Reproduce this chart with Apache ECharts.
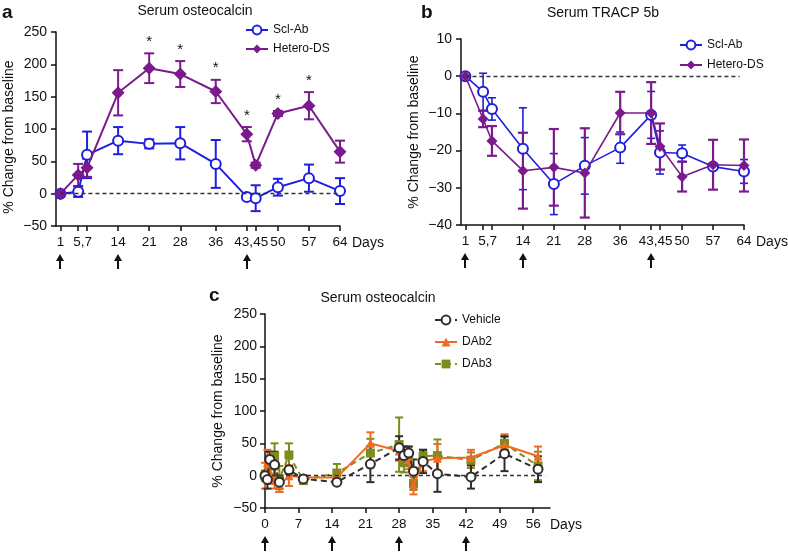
<!DOCTYPE html>
<html><head><meta charset="utf-8">
<script src="https://cdn.jsdelivr.net/npm/echarts@6/dist/echarts.min.js"></script>
<style>html,body{margin:0;padding:0;background:#fff}#c{width:788px;height:553px}</style>
</head><body><div id="c"></div>
<script>
// ---------- data ----------
const daysAB = [1,5,7,14,21,28,36,43,45,50,57,64];
const xTickAB = [1,5,7,14,21,28,36,43,45,50,57,64];
const xLabelPosAB = [1,6,14,21,28,36,44,50,57,64];
const xLabelTxtAB = ['1','5,7','14','21','28','36','43,45','50','57','64'];
const arrowDaysAB = [1,14,43];

// panel a : serum osteocalcin
const sclA    = [0, 3, 60, 82, 77, 78, 46, -5, -7, 10, 24, 4];
const sclAErr = [0, 8, 36, 21, 7, 25, 37, 4, 20, 13, 21, 20];
const hetA    = [0, 29, 40, 156, 194, 185, 158, 92, 44, 124, 136, 65];
const hetAErr = [0, 17, 14, 35, 23, 20, 18, 11, 4, 4, 21, 17];
const sigDaysA = [21, 28, 36, 43, 50, 57];

// panel b : serum TRACP 5b
const sclB    = [0, -4.2, -8.8, -19.5, -29, -24.1, -19.2, -10.4, -20.5, -20.7, -24.3, -25.6];
const sclBErr = [0, 5, 3, 11, 8.2, 7.6, 4.2, 6.3, 5.8, 2.2, 1, 3.2];
const hetB    = [0, -11.5, -17.4, -25.4, -24.5, -26, -9.9, -9.9, -18.9, -27, -23.8, -24];
const hetBErr = [0, 2.2, 4, 10.2, 10.3, 12, 5.7, 8.3, 6.2, 4, 6.7, 7];

// panel c : serum osteocalcin (day, value, error)
const vehDays = [0, 0.5, 1, 2, 3, 5, 8, 15, 22, 28, 29, 30, 31, 33, 36, 43, 50, 57];
const vehC    = [0, -6, 25, 17, -10, 9, -5, -10, 18, 43, 31, 35, 7, 22, 3, -2, 34, 10];
const vehErr  = [6, 14, 12, 20, 10, 6, 4, 4, 28, 18, 14, 10, 18, 18, 28, 18, 27, 20];
const dab2Days = [0, 0.5, 1, 2, 3, 5, 8, 15, 22, 28, 29, 30, 31, 33, 36, 43, 50, 57];
const dab2C    = [0, 20, 5, -5, -15, 0, -3, -3, 50, 38, 30, 25, -15, 22, 27, 28, 47, 30];
const dab2Err  = [20, 20, 18, 15, 10, 16, 4, 6, 17, 15, 15, 15, 14, 15, 22, 12, 17, 15];
const dab3Days = [0, 1, 2, 3, 5, 8, 15, 22, 28, 29, 30, 31, 33, 36, 43, 50, 57];
const dab3C    = [0, 15, 30, -5, 32, -7, 4, 35, 48, 20, 30, -12, 30, 31, 24, 50, 15];
const dab3Err  = [8, 12, 20, 20, 18, 6, 14, 22, 42, 15, 15, 10, 10, 25, 12, 10, 22];
const xTickC = [0, 7, 14, 21, 28, 35, 42, 49, 56];
const arrowDaysC = [0, 14, 28, 42];

// ---------- styling ----------
const FONT = 'Liberation Sans, Arial, Helvetica, sans-serif';
const BLUE = '#1f1fe0', PURPLE = '#7a1a8c', ORANGE = '#f26a22', OLIVE = '#7f8b1c', DARK = '#2e2e2e';
const minus = v => v < 0 ? '\u2212' + Math.abs(v) : String(v);

function yAxis(gi, min, max, interval, margin, namePad) {
  return {
    type: 'value', gridIndex: gi, min, max, interval,
    name: '% Change from baseline', nameLocation: 'middle', nameGap: 40,
    nameTextStyle: {fontFamily: FONT, fontSize: 14, color: '#111', padding: namePad},
    axisLine: {show: true, lineStyle: {color: '#111', width: 1.5}},
    axisTick: {show: true, length: 5, lineStyle: {color: '#111', width: 1.5}},
    axisLabel: {fontFamily: FONT, fontSize: 14, color: '#111', margin, formatter: minus},
    splitLine: {show: false}
  };
}
function xAxis(gi, min, max, ticks, labPos, labTxt, nameGap) {
  return {
    type: 'value', gridIndex: gi, min, max,
    name: 'Days', nameLocation: 'end', nameGap,
    nameTextStyle: {fontFamily: FONT, fontSize: 14, color: '#111', verticalAlign: 'top', padding: [10, 0, 0, 0]},
    axisLine: {show: true, onZero: false, lineStyle: {color: '#111', width: 1.5}},
    axisTick: {show: true, length: 5, customValues: ticks, lineStyle: {color: '#111', width: 1.5}},
    axisLabel: {fontFamily: FONT, fontSize: 13.5, color: '#111', margin: 9, customValues: labPos,
      formatter: v => { const i = labPos.indexOf(v); return i >= 0 ? labTxt[i] : ''; }},
    splitLine: {show: false}
  };
}
function errSeries(ai, data, color, capHalf, lw) {
  return {
    type: 'custom', xAxisIndex: ai, yAxisIndex: ai, z: 1, silent: true,
    encode: {x: 0, y: 1}, data,
    renderItem: (p, api) => {
      const x = api.value(0), v = api.value(1), e = api.value(2);
      if (!e) return {type: 'group', children: []};
      const t = api.coord([x, v + e]), b = api.coord([x, v - e]);
      const st = {stroke: color, lineWidth: lw};
      return {type: 'group', children: [
        {type: 'line', shape: {x1: t[0], y1: t[1], x2: b[0], y2: b[1]}, style: st},
        {type: 'line', shape: {x1: t[0] - capHalf, y1: t[1], x2: t[0] + capHalf, y2: t[1]}, style: st},
        {type: 'line', shape: {x1: b[0] - capHalf, y1: b[1], x2: b[0] + capHalf, y2: b[1]}, style: st}
      ]};
    }
  };
}
function zeroLine(x1, x2) {
  return {silent: true, symbol: 'none', label: {show: false},
    lineStyle: {color: '#333', type: [4, 3], width: 1.3},
    data: [[{coord: [x1, 0]}, {coord: [x2, 0]}]]};
}
const zip = (xs, ys) => xs.map((x, i) => [x, ys[i]]);
const zip3 = (xs, ys, es) => xs.map((x, i) => [x, ys[i], es[i]]);
const letterStyle = {fontFamily: FONT, fontSize: 19, fontWeight: 'bold', color: '#111'};
const titleStyle = {fontFamily: FONT, fontSize: 14, fontWeight: 'normal', color: '#111'};
const legendText = {fontFamily: FONT, fontSize: 12, color: '#111'};

const option = {
  animation: false,
  backgroundColor: '#fff',
  textStyle: {fontFamily: FONT},
  title: [
    {text: 'a', left: 2, top: 3, padding: 0, textStyle: letterStyle},
    {text: 'Serum osteocalcin', left: 195, top: 4, padding: 0, textAlign: 'center', textStyle: titleStyle},
    {text: 'b', left: 421, top: 3, padding: 0, textStyle: letterStyle},
    {text: 'Serum TRACP 5b', left: 603, top: 6, padding: 0, textAlign: 'center', textStyle: titleStyle},
    {text: 'c', left: 209, top: 286, padding: 0, textStyle: letterStyle},
    {text: 'Serum osteocalcin', left: 378, top: 291, padding: 0, textAlign: 'center', textStyle: titleStyle}
  ],
  legend: [
    {data: ['Scl-Ab', 'Hetero-DS'], orient: 'vertical', left: 240, top: 19, itemGap: 7, itemWidth: 22, itemHeight: 11, textStyle: legendText},
    {data: ['Scl-Ab', 'Hetero-DS'], orient: 'vertical', left: 674, top: 34, itemGap: 8, itemWidth: 22, itemHeight: 11, textStyle: legendText},
    {data: ['Vehicle', 'DAb2', 'DAb3'], orient: 'vertical', left: 429, top: 309, itemGap: 10, itemWidth: 22, itemHeight: 11, textStyle: legendText}
  ],
  grid: [
    {left: 56, top: 32, width: 284, height: 194, outerBoundsMode: 'none'},
    {left: 461, top: 39, width: 283, height: 186, outerBoundsMode: 'none'},
    {left: 265, top: 314, width: 285, height: 194, outerBoundsMode: 'none'}
  ],
  xAxis: [
    xAxis(0, 0, 64, xTickAB, xLabelPosAB, xLabelTxtAB, 12),
    xAxis(1, 0, 64, xTickAB, xLabelPosAB, xLabelTxtAB, 12),
    xAxis(2, 0, 59.5, xTickC, xTickC, xTickC.map(String), 0)
  ],
  yAxis: [
    yAxis(0, -50, 250, 50, 9, [0, 16, 0, 0]),
    yAxis(1, -40, 10, 10, 9, [0, 0, 0, 0]),
    yAxis(2, -50, 250, 50, 8, [0, 0, 0, 0])
  ],
  series: [
    // panel a
    errSeries(0, zip3(daysAB, sclA, sclAErr), BLUE, 5, 2),
    errSeries(0, zip3(daysAB, hetA, hetAErr), PURPLE, 5, 2),
    {name: 'Scl-Ab', type: 'line', xAxisIndex: 0, yAxisIndex: 0, z: 3, data: zip(daysAB, sclA),
      symbol: 'emptyCircle', symbolSize: 10, showAllSymbol: true,
      lineStyle: {color: BLUE, width: 2}, itemStyle: {color: BLUE, borderColor: BLUE, borderWidth: 2},
      markLine: zeroLine(1, 64)},
    {name: 'Hetero-DS', type: 'line', xAxisIndex: 0, yAxisIndex: 0, z: 4, data: zip(daysAB, hetA),
      symbol: 'diamond', symbolSize: 13, showAllSymbol: true,
      lineStyle: {color: PURPLE, width: 2}, itemStyle: {color: PURPLE}},
    {type: 'custom', xAxisIndex: 0, yAxisIndex: 0, z: 5, silent: true, encode: {x: 0, y: 1},
      data: sigDaysA.map(d => { const i = daysAB.indexOf(d); return [d, hetA[i] + hetAErr[i]]; }),
      renderItem: (p, api) => {
        const c = api.coord([api.value(0), api.value(1)]);
        return {type: 'text', x: c[0], y: c[1] - 4,
          style: {text: '*', fill: '#111', font: '15px ' + FONT, align: 'center', verticalAlign: 'bottom'}};
      }},
    // panel b
    errSeries(1, zip3(daysAB, sclB, sclBErr), BLUE, 4, 1.6),
    errSeries(1, zip3(daysAB, hetB, hetBErr), PURPLE, 5, 2.2),
    {name: 'Scl-Ab', type: 'line', xAxisIndex: 1, yAxisIndex: 1, z: 3, data: zip(daysAB, sclB),
      symbol: 'emptyCircle', symbolSize: 10, showAllSymbol: true,
      lineStyle: {color: BLUE, width: 1.6}, itemStyle: {color: BLUE, borderColor: BLUE, borderWidth: 1.8},
      markLine: zeroLine(1, 63)},
    {name: 'Hetero-DS', type: 'line', xAxisIndex: 1, yAxisIndex: 1, z: 4, data: zip(daysAB, hetB),
      symbol: 'diamond', symbolSize: 11, showAllSymbol: true,
      lineStyle: {color: PURPLE, width: 1.6}, itemStyle: {color: PURPLE}},
    // panel c
    errSeries(2, zip3(dab3Days, dab3C, dab3Err), OLIVE, 4, 2),
    errSeries(2, zip3(dab2Days, dab2C, dab2Err), ORANGE, 4, 2),
    errSeries(2, zip3(vehDays, vehC, vehErr), DARK, 4, 2),
    {name: 'DAb3', type: 'line', xAxisIndex: 2, yAxisIndex: 2, z: 3, data: zip(dab3Days, dab3C),
      symbol: 'rect', symbolSize: 9, showAllSymbol: true,
      lineStyle: {color: OLIVE, width: 2, type: [6, 4]}, itemStyle: {color: OLIVE}},
    {name: 'DAb2', type: 'line', xAxisIndex: 2, yAxisIndex: 2, z: 4, data: zip(dab2Days, dab2C),
      symbol: 'triangle', symbolSize: 9, showAllSymbol: true,
      lineStyle: {color: ORANGE, width: 2}, itemStyle: {color: ORANGE}},
    {name: 'Vehicle', type: 'line', xAxisIndex: 2, yAxisIndex: 2, z: 5, data: zip(vehDays, vehC),
      symbol: 'emptyCircle', symbolSize: 9, showAllSymbol: true,
      lineStyle: {color: DARK, width: 2, type: [6, 4]}, itemStyle: {color: DARK, borderColor: DARK, borderWidth: 2.4},
      markLine: zeroLine(0, 58.5)}
  ]
};

const chart = echarts.init(document.getElementById('c'), null, {renderer: 'canvas'});
chart.setOption(option);

// arrows below the axes, placed through the library's own scales
function arrows(ai, days, yMin) {
  return days.map(d => {
    const p = chart.convertToPixel({xAxisIndex: ai, yAxisIndex: ai}, [d, yMin]);
    const x = Math.round(p[0]), y = p[1] + 28;
    return {type: 'group', children: [
      {type: 'polygon', shape: {points: [[x, y], [x - 4, y + 7], [x + 4, y + 7]]}, style: {fill: '#111'}},
      {type: 'line', shape: {x1: x, y1: y + 6, x2: x, y2: y + 15}, style: {stroke: '#111', lineWidth: 2}}
    ]};
  });
}
chart.setOption({graphic: [].concat(arrows(0, arrowDaysAB, -50), arrows(1, arrowDaysAB, -40), arrows(2, arrowDaysC, -50))});
</script></body></html>
